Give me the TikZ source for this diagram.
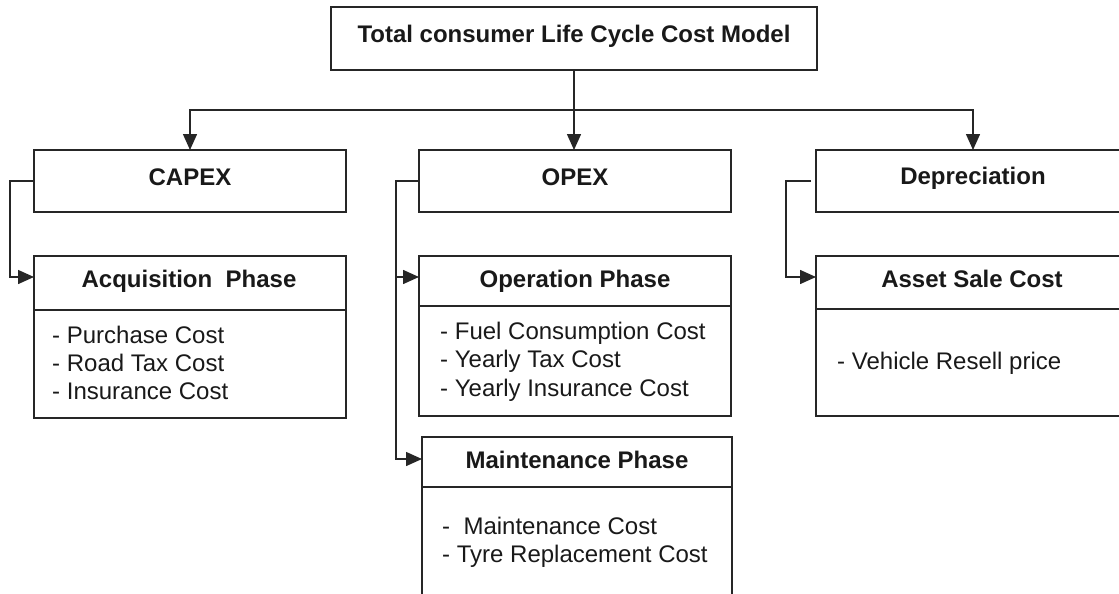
\documentclass[tikz,border=0pt]{standalone}
\usepackage{fontspec}
\setmainfont{Liberation Sans}
\usetikzlibrary{arrows.meta}
\begin{document}
\begin{tikzpicture}[x=1pt,y=-1pt,
  box/.style={draw=black!85, line width=1.5pt, inner sep=0pt, outer sep=0pt},
  hd/.style={font=\fontsize{24}{28}\selectfont\bfseries, anchor=base, inner sep=0pt, text=black!90},
  it/.style={font=\fontsize{24}{28}\selectfont, anchor=base west, inner sep=0pt, text=black!90},
  arr/.style={draw=black!85, line width=1.5pt, -{Triangle[length=16pt,width=14pt]}},
  ln/.style={draw=black!85, line width=1.5pt}]
\useasboundingbox (0,0) rectangle (1119,594);
\clip (0,0) rectangle (1119,594);
% boxes
\node[box, minimum width=486pt, minimum height=63pt] (top) at (574,38.5) {};
\node[box, minimum width=312pt, minimum height=62pt] (capex) at (190,181) {};
\node[box, minimum width=312pt, minimum height=62pt] (opex) at (575,181) {};
\node[box, minimum width=314pt, minimum height=62pt] (dep) at (973,181) {};
\node[box, minimum width=312pt, minimum height=54pt] (acqh) at (190,283) {};
\node[box, minimum width=312pt, minimum height=108pt] (acqb) at (190,364) {};
\node[box, minimum width=312pt, minimum height=50pt] (oph) at (575,281) {};
\node[box, minimum width=312pt, minimum height=110pt] (opb) at (575,361) {};
\node[box, minimum width=310pt, minimum height=50pt] (mh) at (577,462) {};
\node[box, minimum width=310pt, minimum height=123pt] (mb) at (577,548.5) {};
\node[box, minimum width=314pt, minimum height=53pt] (ash) at (973,282.5) {};
\node[box, minimum width=314pt, minimum height=107pt] (asb) at (973,362.5) {};
% connectors
\coordinate (bus) at (574,110);
\draw[arr] (top.south) -- (top.south |- opex.north);
\draw[arr] (bus) -| (capex.north);
\draw[arr] (bus) -| (dep.north);
\draw[arr] (capex.west) -- ++(-24,0) |- ([yshift=6pt]acqh.west);
\draw[arr] (opex.west) -- ++(-23,0) |- ([yshift=4pt]oph.west);
\draw[arr] ([xshift=-23pt]opex.west) |- ([yshift=3pt]mh.west);
\draw[arr] ([xshift=-5pt]dep.west) -- ++(-25,0) |- ([yshift=5.5pt]ash.west);
% texts
\node[hd] (tt) at (574,43) {Total consumer Life Cycle Cost Model};
\node[hd] (tcapex) at (190,185) {CAPEX};
\node[hd] (topex) at (575,185) {OPEX};
\node[hd] (tdep) at (973,184) {Depreciation};
\node[hd] (tacq) at (189,287) {Acquisition\ \ Phase};
\node[hd] (top2) at (575,287) {Operation Phase};
\node[hd] (tas) at (972,287) {Asset Sale Cost};
\node[hd] (tmh) at (577,468) {Maintenance Phase};
\node[it] (a1) at (52,343) {- Purchase Cost};
\node[it] (a2) at (52,371) {- Road Tax Cost};
\node[it] (a3) at (52,399) {- Insurance Cost};
\node[it] (o1) at (440,339) {- Fuel Consumption Cost};
\node[it] (o2) at (440,367) {- Yearly Tax Cost};
\node[it] (o3) at (440,396) {- Yearly Insurance Cost};
\node[it] (m1) at (442,534) {- \ Maintenance Cost};
\node[it] (m2) at (442,562) {- Tyre Replacement Cost};
\node[it] (v1) at (837,369) {- Vehicle Resell price};
\end{tikzpicture}
\end{document}
